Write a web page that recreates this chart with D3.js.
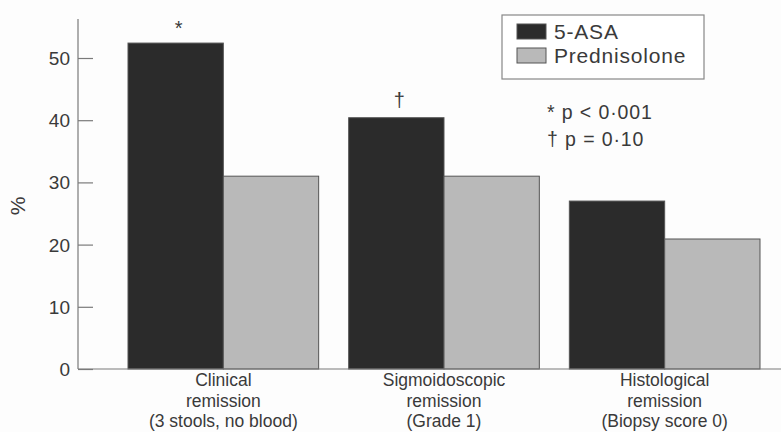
<!DOCTYPE html>
<html>
<head>
<meta charset="utf-8">
<script src="https://cdn.jsdelivr.net/npm/d3@7"></script>
<style>
  html, body { margin: 0; padding: 0; background: #fdfdfd; }
  svg { display: block; font-family: "Liberation Sans", Arial, sans-serif; }
</style>
</head>
<body>
<div id="chart"></div>
<script>
'use strict';

// data
const categories = ['clinical', 'sigmoid', 'histo'];
const categoryLines = [
    ['Clinical', 'remission', '(3 stools, no blood)'],
    ['Sigmoidoscopic', 'remission', '(Grade 1)'],
    ['Histological', 'remission', '(Biopsy score 0)']
];
const series = ['5-ASA', 'Prednisolone'];
const asaValues = [52.4, 40.4, 27.0];
const predValues = [31.0, 31.0, 20.9];
const markers = ['*', '\u2020', ''];
const yTicks = [0, 10, 20, 30, 40, 50];
const notes = ['* p < 0\u00b7001', '\u2020 p = 0\u00b710'];

const W = 781, H = 432;
const colors = { '5-ASA': '#2b2b2b', 'Prednisolone': '#b9b9b9' };
const axisColor = '#7a7a7a';
const textColor = '#3a3a3a';

const svg = d3.select('#chart').append('svg').attr('width', W).attr('height', H);

const y = d3.scaleLinear().domain([0, 50]).range([369, 58]);
const x0 = d3.scaleBand().domain(categories).range([128, 760]).paddingInner(0.136).paddingOuter(0);
const x1 = d3.scaleBand().domain(series).range([0, x0.bandwidth()]);

/* Bars */
const rows = categories.map((c, i) => ({ cat: c, vals: [asaValues[i], predValues[i]] }));
const groups = svg.selectAll('g.grp').data(rows).join('g')
    .attr('class', 'grp')
    .attr('transform', d => `translate(${x0(d.cat)},0)`);

groups.selectAll('rect')
    .data(d => series.map((s, j) => ({ s, v: d.vals[j] })))
    .join('rect')
    .attr('x', d => x1(d.s))
    .attr('y', d => y(d.v))
    .attr('width', x1.bandwidth())
    .attr('height', d => y(0) - y(d.v))
    .attr('fill', d => colors[d.s])
    .attr('stroke', '#555')
    .attr('stroke-width', 1);

/* Significance markers above the 5-ASA bars */
svg.selectAll('text.mark').data(rows).join('text')
    .attr('class', 'mark')
    .attr('x', d => x0(d.cat) + x1('5-ASA') + x1.bandwidth() / 2 + 3)
    .attr('y', (d, i) => y(d.vals[0]) - (i === 0 ? 8 : 11))
    .attr('text-anchor', 'middle')
    .attr('font-size', 20)
    .attr('fill', textColor)
    .text((d, i) => markers[i]);

/* Axes */
svg.append('line').attr('x1', 78).attr('x2', 78).attr('y1', 19).attr('y2', y(0))
    .attr('stroke', axisColor).attr('stroke-width', 1.2);
svg.append('line').attr('x1', 78).attr('x2', W).attr('y1', y(0)).attr('y2', y(0))
    .attr('stroke', axisColor).attr('stroke-width', 1.2);

const yAxis = svg.append('g').attr('transform', 'translate(78,0)')
    .call(d3.axisRight(y).tickValues(yTicks).tickSize(15).tickFormat(''));
yAxis.select('.domain').remove();
yAxis.selectAll('.tick line').attr('stroke', axisColor).attr('stroke-width', 1.2);

svg.selectAll('text.ytick').data(yTicks).join('text')
    .attr('class', 'ytick')
    .attr('x', 70)
    .attr('y', d => y(d) + 7)
    .attr('text-anchor', 'end')
    .attr('font-size', 19)
    .attr('fill', textColor)
    .text(d => d);

svg.append('text')
    .attr('transform', 'translate(25,206) rotate(-90)')
    .attr('text-anchor', 'middle')
    .attr('font-size', 21)
    .attr('fill', textColor)
    .text('%');

/* Category labels */
svg.selectAll('text.cat').data(categories).join('text')
    .attr('class', 'cat')
    .attr('x', d => x0(d) + x0.bandwidth() / 2)
    .attr('y', 386)
    .attr('text-anchor', 'middle')
    .attr('font-size', 17.5)
    .attr('fill', textColor)
    .selectAll('tspan')
    .data((d, i) => categoryLines[i])
    .join('tspan')
    .attr('x', function () { return this.parentNode.getAttribute('x'); })
    .attr('dy', (d, i) => i === 0 ? 0 : 20.5)
    .text(d => d);

/* Legend */
const lg = svg.append('g');
lg.append('rect').attr('x', 502).attr('y', 15).attr('width', 202).attr('height', 64)
    .attr('fill', '#fff').attr('stroke', '#888').attr('stroke-width', 1.2);
series.forEach((s, i) => {
    lg.append('rect').attr('x', 517).attr('y', 24 + i * 24).attr('width', 29).attr('height', 15)
        .attr('fill', colors[s]).attr('stroke', '#555');
    lg.append('text').attr('x', 554).attr('y', 39 + i * 24)
        .attr('font-size', 21).attr('letter-spacing', 0.8)
        .attr('fill', textColor).text(s);
});

/* p-value notes */
svg.selectAll('text.note').data(notes).join('text')
    .attr('class', 'note')
    .attr('x', 547)
    .attr('y', (d, i) => 119 + i * 27)
    .attr('font-size', 19.5)
    .attr('letter-spacing', 0.9)
    .attr('fill', textColor)
    .text(d => d);
</script>
</body>
</html>
